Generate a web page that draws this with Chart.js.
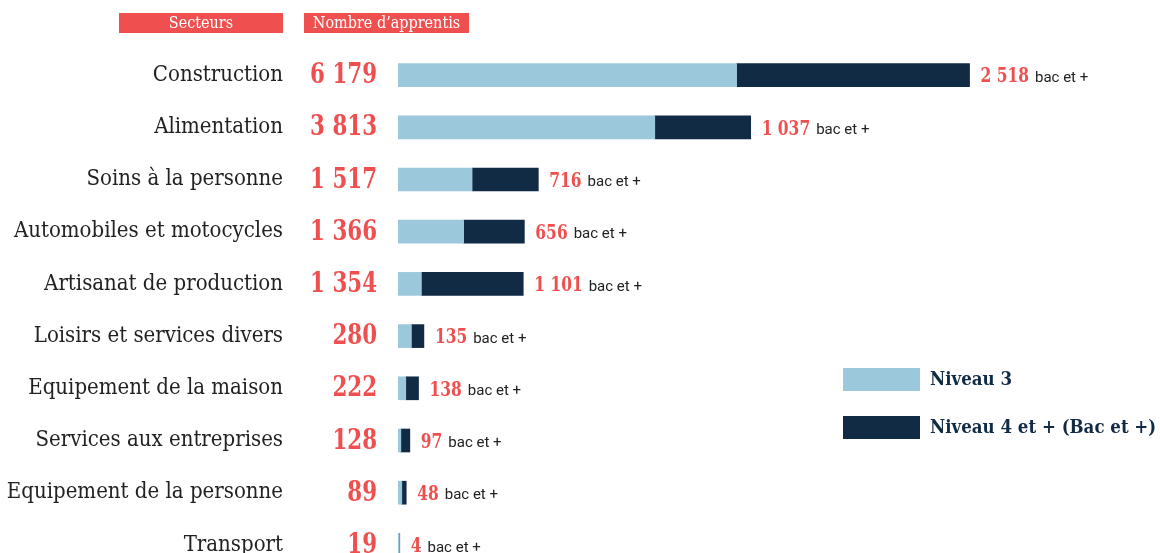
<!DOCTYPE html>
<html>
<head>
<meta charset="utf-8">
<script src="https://cdn.jsdelivr.net/npm/chart.js@4"></script>
<style>
  html, body { margin: 0; padding: 0; background: #fff; overflow: hidden; }
  #wrap { position: relative; width: 1160px; height: 580px; }
</style>
</head>
<body>
<div id="wrap"><canvas id="chart" width="1160" height="580"></canvas></div>
<script>
const secteurs = ['Construction', 'Alimentation', 'Soins à la personne', 'Automobiles et motocycles',
  'Artisanat de production', 'Loisirs et services divers', 'Equipement de la maison',
  'Services aux entreprises', 'Equipement de la personne', 'Transport'];
const totaux = [6179, 3813, 1517, 1366, 1354, 280, 222, 128, 89, 19];
const niveau3 = [3661, 2776, 801, 710, 253, 145, 84, 31, 41, 15];
const bacPlus = [2518, 1037, 716, 656, 1101, 135, 138, 97, 48, 4];

const ROUGE = '#ef4f4f';
const CLAIR = '#9cc8dc';
const FONCE = '#122b45';
const SLAB = '"DejaVu Serif Condensed", "DejaVu Serif", serif';
const SANS = 'Roboto, "Noto Sans", sans-serif';

function fmt(n) {
  return String(n).replace(/\B(?=(\d{3})+(?!\d))/g, ' ');
}

// texte un peu resserré horizontalement (la police d'origine est plus étroite)
function serre(c, txt, x, y, sx) {
  c.save();
  c.translate(x, y);
  c.scale(sx, 1);
  c.fillText(txt, 0, 0);
  const w = c.measureText(txt).width * sx;
  c.restore();
  return w;
}

// textes autour des barres : en-têtes, secteurs, totaux, étiquettes, légende
const decor = {
  id: 'decor',
  afterDraw(chart) {
    const c = chart.ctx;
    const y = chart.scales.y;
    const x = chart.scales.x;
    c.save();
    c.textBaseline = 'middle';

    // en-têtes
    c.fillStyle = ROUGE;
    c.fillRect(119, 13, 164, 20);
    c.fillRect(304, 13, 165, 20);
    c.fillStyle = '#fff';
    c.font = '16px ' + SLAB;
    c.textAlign = 'center';
    c.fillText('Secteurs', 201, 23.5);
    c.fillText('Nombre d\u2019apprentis', 386.5, 23.5);

    secteurs.forEach((s, i) => {
      const py = y.getPixelForValue(i);
      c.textAlign = 'right';
      c.fillStyle = '#222';
      c.font = '22px ' + SLAB;
      c.fillText(s, 283, py);
      c.fillStyle = ROUGE;
      c.font = 'bold 27px ' + SLAB;
      serre(c, fmt(totaux[i]), 377, py + 1, 0.88);

      let px = x.getPixelForValue(niveau3[i] + bacPlus[i]) + 11;
      c.textAlign = 'left';
      c.fillStyle = ROUGE;
      c.font = 'bold 20px ' + SLAB;
      px += serre(c, fmt(bacPlus[i]), px, py + 2, 0.86) + 6;
      c.fillStyle = '#222';
      c.font = '15px ' + SANS;
      c.fillText('bac et +', px, py + 3);
    });

    // légende
    chart.data.datasets.forEach((ds, k) => {
      const ly = 368 + k * 48;
      c.fillStyle = ds.backgroundColor;
      c.fillRect(843, ly, 77, 23);
      c.fillStyle = FONCE;
      c.font = 'bold 18.5px ' + SLAB;
      c.textAlign = 'left';
      c.fillText(ds.label, 930, ly + 12);
    });
    c.restore();
  }
};

new Chart(document.getElementById('chart'), {
  type: 'bar',
  data: {
    labels: secteurs,
    datasets: [
      { label: 'Niveau 3', data: niveau3, backgroundColor: CLAIR, barThickness: 23 },
      { label: 'Niveau 4 et + (Bac et +)', data: bacPlus, backgroundColor: FONCE, barThickness: 23 }
    ]
  },
  options: {
    indexAxis: 'y',
    responsive: false,
    animation: false,
    devicePixelRatio: 1,
    layout: { padding: { left: 398, right: 22, top: 49, bottom: 9 } },
    scales: {
      x: { stacked: true, display: false, min: 0, max: 8000 },
      y: { stacked: true, display: false }
    },
    plugins: { legend: { display: false }, tooltip: { enabled: false } }
  },
  plugins: [decor]
});
</script>
</body>
</html>
